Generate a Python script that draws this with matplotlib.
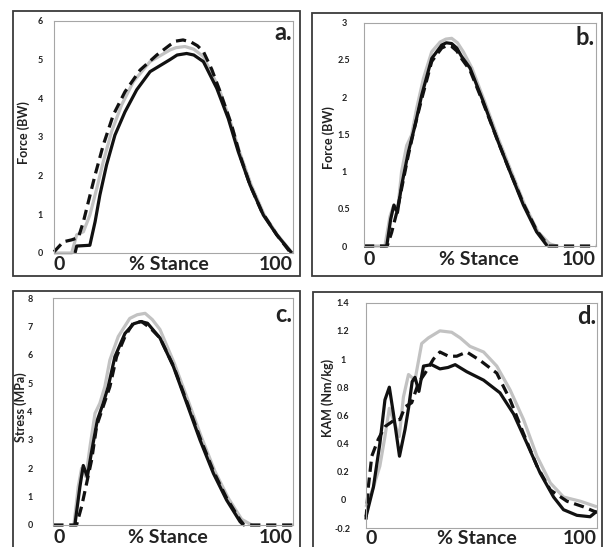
import matplotlib
matplotlib.use("Agg")
import matplotlib.pyplot as plt
from matplotlib.patches import Rectangle
from matplotlib.ticker import FuncFormatter

W, H = 603, 547

# panel a - joint force (BW)
a_gray_x = [0, 7.4, 9.5, 12.3, 15.0, 17.9, 20.6, 24.1, 28.3, 33.2, 40.2, 48.5, 51.0, 54.8, 58.5, 62.5, 69.0, 73.4, 77.6, 82.5, 88.0, 93.5, 99.7]
a_gray_y = [0, 0, 0.47, 0.55, 0.98, 1.67, 2.36, 3.14, 3.83, 4.43, 4.95, 5.25, 5.31, 5.34, 5.27, 5.08, 4.26, 3.48, 2.62, 1.76, 0.98, 0.47, 0]
a_black_x = [8.8, 9.5, 15.0, 17.2, 19.2, 22.0, 25.5, 29.7, 34.6, 40.2, 48.5, 51.5, 55.5, 58.5, 62.5, 68.1, 72.9, 77.1, 82.0, 87.6, 93.2, 99.5]
a_black_y = [0, 0.18, 0.2, 0.81, 1.5, 2.28, 3.05, 3.65, 4.22, 4.69, 5.0, 5.12, 5.16, 5.12, 4.95, 4.26, 3.48, 2.62, 1.76, 0.98, 0.47, 0]
a_dash_x = [0, 3.9, 7.4, 10.2, 12.3, 14.4, 17.2, 20.6, 24.8, 29.7, 36.0, 43.0, 48.5, 51.0, 54.0, 57.5, 60.0, 62.5, 66.0, 69.5, 74.3, 77.8, 82.0, 86.9, 93.2, 98.7]
a_dash_y = [0.03, 0.29, 0.34, 0.40, 0.81, 1.33, 2.02, 2.79, 3.57, 4.17, 4.73, 5.12, 5.38, 5.48, 5.51, 5.45, 5.36, 5.21, 4.75, 4.17, 3.31, 2.53, 1.76, 1.07, 0.47, 0.03]

# panel b - force (BW)
b_gray_x = [0, 9.0, 11.2, 12.6, 14.4, 16.2, 18.4, 20.5, 22.7, 25.6, 29.2, 32.8, 35.3, 37.8, 40.3, 42.8, 46.5, 52.0, 57.8, 63.5, 69.3, 75.0, 80.0, 83.0]
b_gray_y = [0, 0, 0.40, 0.53, 0.45, 1.0, 1.35, 1.49, 1.85, 2.25, 2.61, 2.74, 2.78, 2.79, 2.73, 2.61, 2.39, 1.94, 1.45, 1.0, 0.55, 0.19, 0.03, 0]
b_black_x = [9.8, 11.5, 12.9, 14.4, 16.2, 19.1, 22.0, 24.9, 29.2, 33.5, 35.5, 37.8, 40.0, 42.0, 45.7, 51.4, 57.2, 62.9, 68.7, 74.4, 79.0]
b_black_y = [0, 0.36, 0.55, 0.45, 0.81, 1.26, 1.62, 2.03, 2.52, 2.70, 2.73, 2.72, 2.66, 2.55, 2.39, 1.94, 1.45, 1.0, 0.55, 0.19, 0]
b_dash_x = [0, 10.0, 11.9, 14.1, 16.2, 19.1, 22.0, 24.9, 29.2, 33.5, 35.6, 37.8, 40.0, 42.0, 45.7, 51.4, 57.2, 62.9, 68.7, 74.4, 79.5, 100]
b_dash_y = [0, 0, 0.18, 0.45, 0.77, 1.22, 1.62, 1.98, 2.48, 2.66, 2.69, 2.68, 2.62, 2.52, 2.36, 1.92, 1.45, 1.0, 0.57, 0.21, 0, 0]

# panel c - stress (MPa)
c_gray_x = [8.6, 10.4, 11.8, 13.6, 15.3, 17.4, 19.4, 21.5, 23.6, 27.1, 31.9, 35.0, 38.3, 41.3, 44.5, 50.5, 56.2, 61.8, 67.4, 73.0, 78.6, 82.8]
c_gray_y = [0, 1.35, 2.0, 1.7, 2.76, 3.94, 4.29, 4.88, 5.82, 6.65, 7.29, 7.42, 7.47, 7.25, 6.9, 5.7, 4.4, 3.1, 1.9, 0.95, 0.2, 0]
c_black_x = [9.0, 11.1, 12.5, 14.2, 16.0, 18.4, 20.8, 22.9, 25.7, 29.9, 33.5, 36.5, 39.3, 44.5, 50.1, 55.7, 61.2, 66.8, 72.3, 77.9, 79.3]
c_black_y = [0, 1.35, 2.10, 1.70, 2.6, 3.71, 4.29, 4.88, 5.94, 6.76, 7.1, 7.18, 7.12, 6.6, 5.59, 4.29, 3.0, 1.82, 0.88, 0.12, 0]
c_dash_x = [0, 9.7, 11.8, 13.9, 16.0, 18.1, 20.8, 23.6, 26.4, 29.9, 33.3, 36.8, 40.5, 44.5, 50.1, 55.7, 61.2, 66.8, 72.3, 77.9, 79.6, 100]
c_dash_y = [0, 0, 0.65, 1.47, 2.3, 3.5, 4.18, 4.88, 5.94, 6.65, 7.12, 7.18, 6.95, 6.6, 5.62, 4.35, 3.08, 1.9, 0.95, 0.18, 0, 0]

# panel d - KAM (Nm/kg)
d_gray_x = [0, 3.2, 6.0, 8.2, 10.1, 11.8, 14.4, 16.2, 18.4, 21.2, 24.1, 27.0, 32.0, 37.1, 40.8, 45.0, 50.9, 56.6, 62.4, 68.2, 74.0, 79.8, 85.5, 92.8, 100]
d_gray_y = [-0.05, 0.09, 0.24, 0.45, 0.65, 0.57, 0.45, 0.73, 0.89, 0.85, 1.11, 1.15, 1.2, 1.19, 1.15, 1.09, 1.05, 0.95, 0.78, 0.57, 0.31, 0.12, 0.02, -0.01, -0.05]
d_black_x = [0, 3.2, 6.0, 8.2, 10.1, 11.8, 14.5, 16.9, 18.4, 20.0, 21.2, 22.9, 24.9, 28.4, 32.0, 35.5, 38.6, 43.6, 50.9, 58.0, 63.9, 69.7, 75.4, 81.2, 85.5, 91.3, 97.0, 100]
d_black_y = [-0.12, 0.09, 0.40, 0.71, 0.80, 0.62, 0.31, 0.50, 0.65, 0.84, 0.87, 0.77, 0.95, 0.96, 0.93, 0.94, 0.96, 0.91, 0.85, 0.76, 0.61, 0.40, 0.19, 0.02, -0.07, -0.11, -0.12, -0.08]
d_dash_x = [0, 1.0, 2.5, 5.3, 8.2, 12.6, 14.7, 16.9, 19.8, 22.7, 25.6, 29.2, 32.0, 35.7, 39.3, 43.6, 49.4, 56.6, 62.4, 68.2, 74.0, 79.8, 87.0, 94.2, 100]
d_dash_y = [-0.14, 0.09, 0.31, 0.43, 0.52, 0.57, 0.57, 0.66, 0.69, 0.83, 0.90, 1.0, 1.05, 1.02, 1.02, 1.05, 0.99, 0.90, 0.71, 0.47, 0.24, 0.07, -0.01, -0.05, -0.09]

GRAY = "#c2c2c2"
BLACK = "#111111"
TXT = "#222222"
LW = 2.3

plt.rcParams["font.family"] = ["Lato", "DejaVu Sans"]
plt.rcParams["font.weight"] = "bold"


def px_rect(left, top, right, bottom):
    return [left / W, 1 - bottom / H, (right - left) / W, (bottom - top) / H]


def draw_panel(fig, rect, ylim, ystep, ylabel, lab_xy, tick_pad, letter, letter_y, xtext_off, stance_x,
               gray, black, dash):
    ax = fig.add_axes(px_rect(*rect))
    ax.plot(gray[0], gray[1], color=GRAY, lw=LW, clip_on=False, solid_capstyle="butt", solid_joinstyle="round")
    ax.plot(black[0], black[1], color=BLACK, lw=LW, clip_on=False, solid_capstyle="butt", solid_joinstyle="round")
    ax.plot(dash[0], dash[1], color=BLACK, lw=LW, clip_on=False, dashes=(3.2, 1.8))
    ax.set_xlim(0, 100)
    ax.set_ylim(*ylim)
    n = int(round((ylim[1] - ylim[0]) / ystep))
    ax.set_yticks([round(ylim[0] + i * ystep, 2) for i in range(n + 1)])
    ax.yaxis.set_major_formatter(FuncFormatter(lambda v, p: f"{v:g}"))
    ax.set_xticks([])
    ax.tick_params(axis="y", length=0, pad=tick_pad, labelsize=6.5, labelcolor=TXT)
    plt.setp(ax.get_yticklabels(), ha="center", fontweight="bold")
    for s in ax.spines.values():
        s.set_color("#a6a6a6")
        s.set_linewidth(0.8)
    ax.set_ylabel(ylabel, fontsize=9, fontweight="bold", color=TXT, va="center")
    ax.yaxis.set_label_coords(*lab_xy)
    hpx = rect[3] - rect[1]
    yb = -xtext_off / hpx
    ax.text(0, yb, "0", transform=ax.transAxes, ha="left", va="top", fontsize=14, fontweight="bold", color=TXT)
    ax.text(1, yb, "100", transform=ax.transAxes, ha="right", va="top", fontsize=14, fontweight="bold", color=TXT)
    ax.text(stance_x, yb, "% Stance", transform=ax.transAxes, ha="center", va="top", fontsize=14,
            fontweight="bold", color=TXT)
    ax.text(0.995, letter_y, letter, transform=ax.transAxes, ha="right", va="top", fontsize=17,
            fontweight="bold", color=TXT)
    return ax


fig = plt.figure(figsize=(W / 100, H / 100), dpi=100)

# outer panel frames
for l, t, r, b in [(13, 11, 300, 276), (312, 13, 601.5, 276), (13, 291, 300, 560), (313, 292, 601.5, 560)]:
    fig.add_artist(Rectangle((l / W, 1 - b / H), (r - l) / W, (b - t) / H, transform=fig.transFigure,
                             fill=False, edgecolor="#3a3a3a", linewidth=1.3))

draw_panel(fig, (54, 21, 293, 253), (0, 6), 1, "Force (BW)", (-0.125, 0.517), 9.7, "a.", 1.0, 3, 0.481,
           (a_gray_x, a_gray_y), (a_black_x, a_black_y), (a_dash_x, a_dash_y))
draw_panel(fig, (364, 22.7, 596, 246), (0, 3), 0.5, "Force (BW)", (-0.151, 0.484), 14.4, "b.", 0.985, 5, 0.496,
           (b_gray_x, b_gray_y), (b_black_x, b_black_y), (b_dash_x, b_dash_y))
draw_panel(fig, (53.3, 298.3, 293, 525), (0, 8), 1, "Stress (MPa)", (-0.135, 0.52), 16.8, "c.", 0.978, 4, 0.478,
           (c_gray_x, c_gray_y), (c_black_x, c_black_y), (c_dash_x, c_dash_y))
draw_panel(fig, (366, 302.7, 597, 528), (-0.2, 1.4), 0.2, "KAM (Nm/kg)", (-0.1645, 0.577), 16.6, "d.", 0.99, 2, 0.48,
           (d_gray_x, d_gray_y), (d_black_x, d_black_y), (d_dash_x, d_dash_y))

fig.savefig("out.png", dpi=100)
